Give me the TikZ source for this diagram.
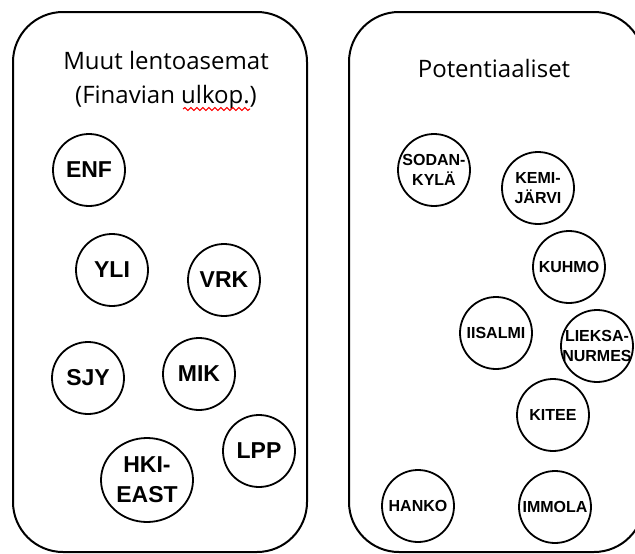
\documentclass[tikz,border=0pt]{standalone}
\usepackage{fontspec}
\setmainfont{Open Sans}
\newfontfamily\labelfont{Liberation Sans}
\usetikzlibrary{decorations.pathmorphing,shapes.geometric}
\begin{document}
\begin{tikzpicture}[x=1pt,y=-1pt,
  panel/.style={draw=black, line width=2pt, rounded corners=50pt},
  ring/.style={circle, draw=black, line width=1.8pt, minimum size=72pt, inner sep=0pt},
  bigtxt/.style={font=\labelfont\fontsize{23}{30}\selectfont\bfseries, align=center, inner sep=0pt},
  smalltxt/.style={font=\labelfont\fontsize{16}{20}\selectfont\bfseries, align=center, inner sep=0pt},
  titletxt/.style={font=\fontsize{24}{34}\selectfont, align=center, inner sep=0pt},
  squiggle/.style={draw=red, line width=1.1pt, decorate, decoration={snake, segment length=6pt, amplitude=1.4pt}}]
\useasboundingbox (0,0) rectangle (635,554);
\clip (0,0) rectangle (635,554);
\fill[white] (0,0) rectangle (635,554);
% panels
\draw[panel] (13,12) rectangle (307,552);
\draw[panel] (349,12) rectangle (644,552);
% titles
\node[titletxt] (t1) at (166,80) {Muut lentoasemat\\(Finavian ulkop.)};
\node[titletxt] (t2) at (494,68) {Potentiaaliset};
\coordinate (sqa) at (183,109);
\coordinate (sqb) at (250,109);
\draw[squiggle] (sqa) -- (sqb);
% left circles
\node[ring, label={[bigtxt]center:ENF}] (enf) at (89,170) {};
\node[ring, label={[bigtxt]center:YLI}] (yli) at (112,270) {};
\node[ring, label={[bigtxt]center:VRK}] (vrk) at (224,280) {};
\node[ring, label={[bigtxt]center:SJY}] (sjy) at (88,378) {};
\node[ring, label={[bigtxt]center:MIK}] (mik) at (199,374) {};
\node[ring, label={[bigtxt]center:LPP}] (lpp) at (259,451) {};
\node[ellipse, draw=black, line width=1.8pt, minimum width=92pt, minimum height=84pt, inner sep=0pt,
      label={[bigtxt]center:HKI-\\EAST}] (hki) at (147,480) {};
% right circles
\node[ring, label={[smalltxt]center:SODAN-\\KYLÄ}] (sod) at (434,170) {};
\node[ring, label={[smalltxt]center:KEMI-\\JÄRVI}] (kem) at (538,188) {};
\node[ring, label={[smalltxt]center:KUHMO}] (kuh) at (569,267) {};
\node[ring, label={[smalltxt]center:IISALMI}] (iis) at (496,333) {};
\node[ring, label={[smalltxt]center:LIEKSA-\\NURMES}] (lie) at (597,346) {};
\node[ring, label={[smalltxt]center:KITEE}] (kit) at (553,415) {};
\node[ring, label={[smalltxt]center:HANKO}] (han) at (418,506) {};
\node[ring, label={[smalltxt]center:IMMOLA}] (imm) at (555,507) {};
\end{tikzpicture}
\end{document}
